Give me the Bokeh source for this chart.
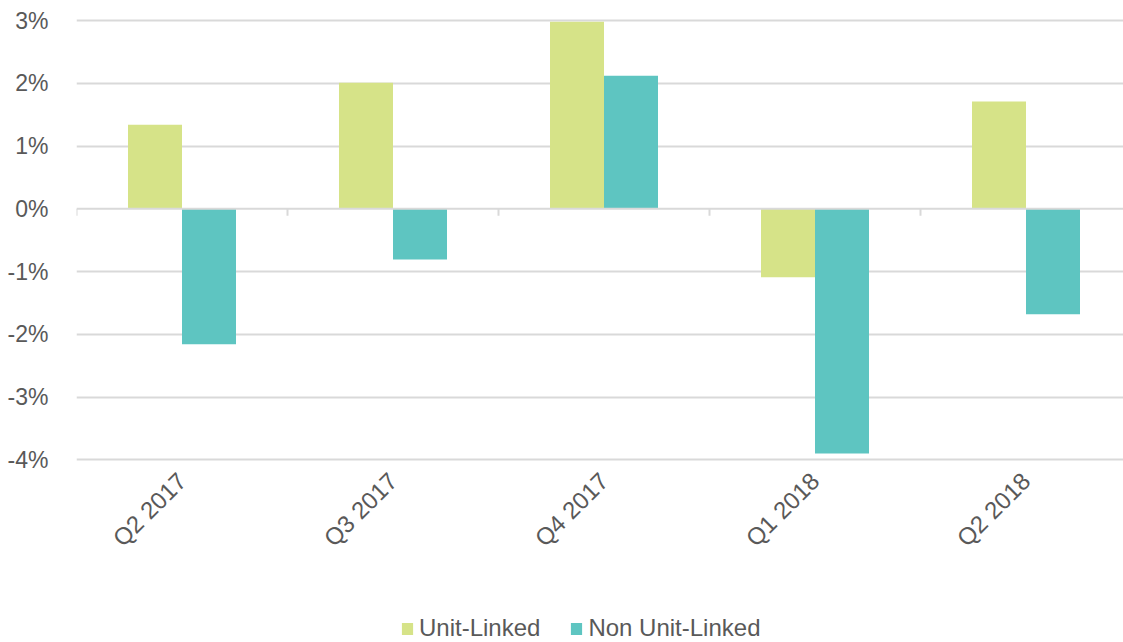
import math
from bokeh.plotting import figure
from bokeh.models import Range1d, FixedTicker, PrintfTickFormatter, Legend, LegendItem, Span
from bokeh.core.properties import value
from bokeh.embed import file_html
from bokeh.resources import INLINE

quarters = ["Q2 2017", "Q3 2017", "Q4 2017", "Q1 2018", "Q2 2018"]
unit_linked = [1.34, 2.01, 2.98, -1.09, 1.71]
non_unit_linked = [-2.16, -0.81, 2.12, -3.90, -1.68]
y_ticks = [-4, -3, -2, -1, 0, 1, 2, 3]

UL_COLOR = "#D6E388"
NUL_COLOR = "#5EC5C1"
GRID = "#D9D9D9"
TEXT = "#595959"
FONT = "Liberation Sans"

n = len(quarters)
xs = list(range(n))
cat_px = 211.0
frame_left = 76
frame_top = 10
W, H = 1123, 642
frame_w = W - frame_left
frame_h = H - frame_top
px_per_unit = 62.76
y_top = max(y_ticks) + frame_top / px_per_unit

p = figure(width=W, height=H, output_backend="svg", toolbar_location=None,
           x_range=Range1d(-0.5, -0.5 + frame_w / cat_px),
           y_range=Range1d(y_top - frame_h / px_per_unit, y_top),
           min_border_left=frame_left, min_border_right=0, min_border_top=frame_top,
           min_border_bottom=0)
p.outline_line_color = None
p.background_fill_color = "white"
p.border_fill_color = "white"

bw = 54.0 / cat_px
r1 = p.vbar(x=[x - bw / 2 for x in xs], top=unit_linked, bottom=0, width=bw,
            fill_color=UL_COLOR, line_color=None)
r2 = p.vbar(x=[x + bw / 2 for x in xs], top=non_unit_linked, bottom=0, width=bw,
            fill_color=NUL_COLOR, line_color=None)

# zero line and category boundary ticks
p.add_layout(Span(location=0, dimension="width", line_color=GRID, line_width=2, level="overlay"))
bounds = [x - 0.5 for x in xs]
p.segment(x0=bounds, y0=[0] * n, x1=bounds, y1=[-0.11] * n, line_color=GRID, line_width=2)

# y axis
p.yaxis.ticker = FixedTicker(ticks=y_ticks)
p.yaxis.formatter = PrintfTickFormatter(format="%d%%")
p.yaxis.axis_line_color = None
p.yaxis.major_tick_line_color = None
p.yaxis.minor_tick_line_color = None
p.yaxis.major_label_text_font = FONT
p.yaxis.major_label_text_font_size = "23px"
p.yaxis.major_label_text_color = TEXT
p.yaxis.major_label_standoff = 22
p.ygrid.ticker = FixedTicker(ticks=[t for t in y_ticks if t != 0])
p.ygrid.grid_line_color = GRID
p.ygrid.grid_line_width = 2

# x axis: category labels drawn as rotated text below the lowest gridline
p.xgrid.grid_line_color = None
p.xaxis.visible = False
p.text(x=xs, y=[min(y_ticks)] * n, text=quarters, angle=math.pi / 4,
       text_align="right", text_baseline="middle", y_offset=17,
       text_font=value(FONT), text_font_size="24px", text_color=TEXT)

legend = Legend(items=[LegendItem(label="Unit-Linked", renderers=[r1]),
                       LegendItem(label="Non Unit-Linked", renderers=[r2])],
                orientation="horizontal", location=(400 - frame_left, 0),
                label_text_font=FONT, label_text_font_size="24px", label_text_color=TEXT,
                glyph_width=14, glyph_height=15, label_standoff=5, spacing=29,
                border_line_color=None, background_fill_alpha=0, padding=0, margin=0)
p.add_layout(legend, "center")

open("out.html", "w").write(file_html(p, INLINE))
